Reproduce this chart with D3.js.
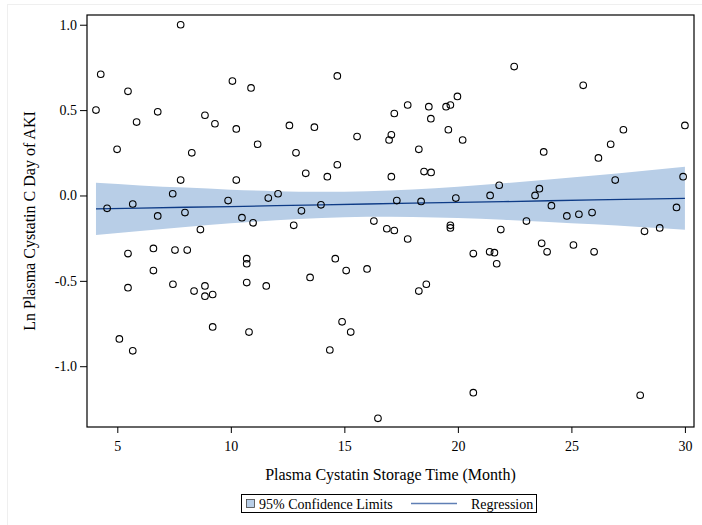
<!doctype html>
<html>
  <head>
    <meta charset="utf-8">
    <script src="https://cdn.jsdelivr.net/npm/d3@7/dist/d3.min.js"></script>
    <title>Cystatin C vs storage time</title>
    <style>
      body { margin: 0; background: #fff; }
      svg text { font-family: "Liberation Serif", "Times New Roman", serif; fill: #000; }
    </style>
  </head>
  <body>
    <div id="chart"></div>
    <script>
      // scatter points
      const storageMonths = [
        4.06, 4.27, 4.55, 4.99, 5.09, 5.47, 5.47, 5.47, 5.68, 5.68,
        5.85, 6.59, 6.59, 6.78, 6.78, 7.44, 7.45, 7.54, 7.79, 7.79,
        7.98, 8.08, 8.28, 8.38, 8.66, 8.86, 8.86, 8.86, 9.20, 9.20,
        9.30, 9.88, 10.07, 10.24, 10.24, 10.49, 10.70, 10.70, 10.70, 10.80,
        10.89, 10.98, 11.18, 11.56, 11.65, 12.08, 12.58, 12.77, 12.87, 13.11,
        13.30, 13.49, 13.68, 13.97, 14.25, 14.36, 14.60, 14.69, 14.69, 14.90,
        15.08, 15.28, 15.56, 16.00, 16.30, 16.48, 16.87, 16.97, 17.07, 17.07,
        17.20, 17.20, 17.31, 17.79, 17.79, 18.28, 18.28, 18.38, 18.51, 18.61,
        18.72, 18.81, 18.82, 19.48, 19.58, 19.67, 19.67, 19.67, 19.91, 19.98,
        20.21, 20.68, 20.68, 21.40, 21.42, 21.61, 21.71, 21.82, 21.89, 22.48,
        23.02, 23.40, 23.59, 23.69, 23.78, 23.93, 24.12, 24.80, 25.09, 25.33,
        25.52, 25.91, 26.00, 26.19, 26.73, 26.93, 27.29, 28.03, 28.22, 28.89,
        29.63, 29.92, 30.00
      ];
      const lnCystatin = [
        0.50, 0.71, -0.075, 0.27, -0.84, 0.61, -0.34, -0.54, -0.05, -0.91,
        0.43, -0.31, -0.44, 0.49, -0.12, 0.01, -0.52, -0.32, 1.00, 0.09,
        -0.10, -0.32, 0.25, -0.56, -0.20, 0.47, -0.53, -0.59, -0.58, -0.77,
        0.42, -0.03, 0.67, 0.39, 0.09, -0.13, -0.37, -0.40, -0.51, -0.80,
        0.63, -0.16, 0.30, -0.53, -0.015, 0.01, 0.41, -0.175, 0.25, -0.09,
        0.13, -0.48, 0.40, -0.055, 0.11, -0.905, -0.37, 0.70, 0.18, -0.74,
        -0.44, -0.80, 0.345, -0.43, -0.15, -1.305, -0.195, 0.325, 0.355, 0.11,
        0.48, -0.205, -0.03, 0.53, -0.255, 0.27, -0.56, -0.035, 0.14, -0.52,
        0.52, 0.45, 0.135, 0.52, 0.385, 0.53, -0.175, -0.19, -0.015, 0.58,
        0.325, -0.34, -1.155, -0.33, 0.00, -0.335, -0.40, 0.06, -0.20, 0.755,
        -0.15, 0.00, 0.04, -0.28, 0.255, -0.33, -0.06, -0.12, -0.29, -0.11,
        0.645, -0.10, -0.33, 0.22, 0.30, 0.09, 0.385, -1.17, -0.21, -0.19,
        -0.07, 0.11, 0.41
      ];

      // regression line and 95% confidence limits
      const fitMonths = [4.06, 6, 8, 10, 12, 14, 16, 18, 20, 22, 24, 26, 28, 30];
      const fitValues = [-0.079, -0.074, -0.069, -0.065, -0.060, -0.055, -0.050, -0.045, -0.041, -0.036, -0.031, -0.026, -0.021, -0.017];
      const upperLimit = [0.074, 0.059, 0.046, 0.034, 0.025, 0.022, 0.025, 0.035, 0.051, 0.071, 0.093, 0.117, 0.142, 0.168];
      const lowerLimit = [-0.232, -0.208, -0.184, -0.163, -0.145, -0.132, -0.125, -0.126, -0.132, -0.142, -0.155, -0.169, -0.185, -0.201];

      const xTicks = [5, 10, 15, 20, 25, 30];
      const yTicks = [1.0, 0.5, 0.0, -0.5, -1.0];

      (function() {
        const width = 702, height = 525;
        const plotLeft = 87, plotRight = 694, plotTop = 15, plotBottom = 427;
        const serif = "Liberation Serif, Times New Roman, serif";

        const svg = d3.select("#chart").append("svg")
          .attr("width", width)
          .attr("height", height);

        // faint page border
        svg.append("rect")
          .attr("x", 7.5).attr("y", 4.5)
          .attr("width", 700).attr("height", 525)
          .attr("fill", "none")
          .attr("stroke", "#efefef");

        const x = d3.scaleLinear().domain([3.665, 30.4]).range([plotLeft, plotRight]);
        const y = d3.scaleLinear().domain([-1.356, 1.057]).range([plotBottom, plotTop]);

        const band = fitMonths.map((m, i) => ({ m, lo: lowerLimit[i], hi: upperLimit[i], fit: fitValues[i] }));

        svg.append("path")
          .datum(band)
          .attr("fill", "#b8cee7")
          .attr("d", d3.area()
            .curve(d3.curveMonotoneX)
            .x(d => x(d.m))
            .y0(d => y(d.lo))
            .y1(d => y(d.hi)));

        svg.append("path")
          .datum(band)
          .attr("fill", "none")
          .attr("stroke", "#0e3b86")
          .attr("stroke-width", 1.3)
          .attr("d", d3.line()
            .x(d => x(d.m))
            .y(d => y(d.fit)));

        const pts = storageMonths.map((m, i) => [m, lnCystatin[i]]);

        svg.append("g")
          .selectAll("circle")
          .data(pts)
          .join("circle")
            .attr("cx", d => x(d[0]))
            .attr("cy", d => y(d[1]))
            .attr("r", 3.3)
            .attr("fill", "none")
            .attr("stroke", "#000")
            .attr("stroke-width", 1.1);

        // frame
        svg.append("rect")
          .attr("x", plotLeft).attr("y", plotTop)
          .attr("width", plotRight - plotLeft).attr("height", plotBottom - plotTop)
          .attr("fill", "none")
          .attr("stroke", "#000")
          .attr("stroke-width", 1.2);

        const fmt = d => d3.format(".1f")(d).replace("\u2212", "-");

        const xAxis = svg.append("g")
          .attr("transform", "translate(0," + plotBottom + ")")
          .call(d3.axisBottom(x).tickValues(xTicks).tickSize(6).tickPadding(8).tickFormat(d3.format("d")));

        const yAxis = svg.append("g")
          .attr("transform", "translate(" + plotLeft + ",0)")
          .call(d3.axisLeft(y).tickValues(yTicks).tickSize(7).tickPadding(3).tickFormat(fmt));

        [xAxis, yAxis].forEach(g => {
          g.attr("font-family", serif).attr("font-size", 14);
          g.select(".domain").remove();
          g.selectAll("line").attr("stroke", "#000");
          g.selectAll("text")
            .attr("fill", "#000")
            .attr("font-family", serif)
            .attr("font-size", 14);
        });

        svg.append("text")
          .attr("x", (plotLeft + plotRight) / 2)
          .attr("y", 480)
          .attr("text-anchor", "middle")
          .style("font-size", "16px")
          .text("Plasma Cystatin Storage Time (Month)");

        svg.append("text")
          .attr("transform", "translate(35," + (plotTop + plotBottom) / 2 + ") rotate(-90)")
          .attr("text-anchor", "middle")
          .style("font-size", "16px")
          .text("Ln Plasma Cystatin C Day of AKI");

        // legend
        const lg = svg.append("g");
        lg.append("rect")
          .attr("x", 241.5).attr("y", 494.5)
          .attr("width", 295).attr("height", 18)
          .attr("fill", "#fff")
          .attr("stroke", "#000");
        lg.append("rect")
          .attr("x", 246.5).attr("y", 499.5)
          .attr("width", 8).attr("height", 8)
          .attr("fill", "#b8cee7")
          .attr("stroke", "#444")
          .attr("stroke-width", 0.8);
        lg.append("text")
          .attr("x", 259).attr("y", 508.5)
          .style("font-size", "14px")
          .text("95% Confidence Limits");
        lg.append("line")
          .attr("x1", 411).attr("x2", 457)
          .attr("y1", 503.5).attr("y2", 503.5)
          .attr("stroke", "#5f7fb5")
          .attr("stroke-width", 1.3);
        lg.append("text")
          .attr("x", 471).attr("y", 508.5)
          .style("font-size", "14px")
          .text("Regression");
      })();
    </script>
  </body>
</html>
